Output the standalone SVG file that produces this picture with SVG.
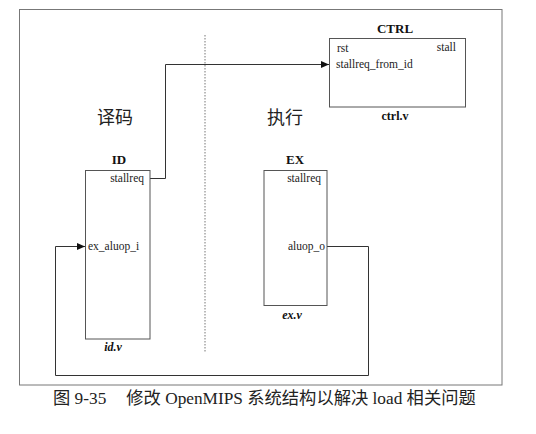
<svg xmlns="http://www.w3.org/2000/svg" width="536" height="434" viewBox="0 0 536 434">
  <defs>
    <marker id="arrow" markerWidth="8" markerHeight="8" refX="8" refY="4" orient="auto" markerUnits="userSpaceOnUse">
      <path d="M0,0.5 L8,4 L0,7.5 Z" fill="#111"/>
    </marker>
    <style>
      .box { fill: #fff; stroke: #555; stroke-width: 1; }
      .wire { fill: none; stroke: #333; stroke-width: 1; }
      .port { font-family: "Liberation Serif", serif; font-size: 11.5px; fill: #222; }
      .title { font-family: "Liberation Serif", serif; font-size: 13px; font-weight: bold; fill: #111; text-anchor: middle; }
      .file { font-family: "Liberation Serif", serif; font-size: 12px; font-weight: bold; fill: #111; text-anchor: middle; }
      .stage { font-family: "Liberation Serif", "Noto Sans CJK SC", serif; font-size: 18px; fill: #222; text-anchor: middle; }
      .caption { font-family: "Liberation Serif", "Noto Sans CJK SC", serif; font-size: 17.3px; fill: #222; }
    </style>
  </defs>
  <rect width="536" height="434" fill="#fff"/>

  <!-- outer frame -->
  <rect x="19.5" y="9.5" width="482.5" height="375.5" fill="none" stroke="#777" stroke-width="1"/>

  <!-- pipeline stage divider -->
  <line x1="205" y1="35" x2="205" y2="352" stroke="#777" stroke-width="1" stroke-dasharray="1.5,1.5"/>
  <text class="stage" x="115" y="124">译码</text>
  <text class="stage" x="285" y="124">执行</text>

  <g id="connectors">
    <polyline class="wire" points="150,178.5 165.5,178.5 165.5,64.5 329,64.5" marker-end="url(#arrow)"/>
    <polyline class="wire" points="327,246.5 368.5,246.5 368.5,375.5 55.5,375.5 55.5,246.5 85,246.5" marker-end="url(#arrow)"/>
  </g>

  <g id="ctrl">
    <rect class="box" x="329.5" y="38.5" width="136" height="68.5"/>
    <text class="title" x="395" y="33">CTRL</text>
    <text class="port" x="337" y="52">rst</text>
    <text class="port" x="456" y="51" text-anchor="end">stall</text>
    <text class="port" x="336" y="68">stallreq_from_id</text>
    <text class="file" x="395" y="120">ctrl.v</text>
  </g>

  <g id="id">
    <rect class="box" x="85.5" y="170.5" width="64.5" height="168.5"/>
    <text class="title" x="119" y="164">ID</text>
    <text class="port" x="144" y="182" text-anchor="end">stallreq</text>
    <text class="port" x="88" y="250">ex_aluop_i</text>
    <text class="file" x="113" y="351" font-style="italic">id.v</text>
  </g>

  <g id="ex">
    <rect class="box" x="264" y="170.5" width="63" height="135"/>
    <text class="title" x="295" y="164">EX</text>
    <text class="port" x="321" y="182" text-anchor="end">stallreq</text>
    <text class="port" x="325" y="250" text-anchor="end">aluop_o</text>
    <text class="file" x="292" y="319" font-style="italic">ex.v</text>
  </g>

  <text class="caption" x="53" y="404">图 9-35<tspan dx="20">修改 OpenMIPS 系统结构以解决 load 相关问题</tspan></text>
</svg>
